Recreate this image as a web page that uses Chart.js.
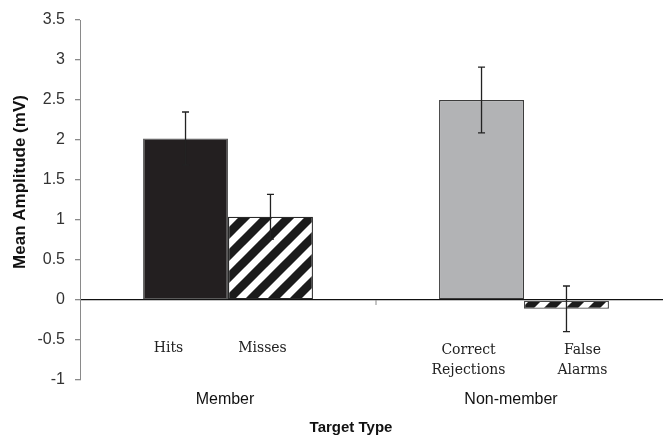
<!DOCTYPE html>
<html>
<head>
<meta charset="utf-8">
<script src="https://cdn.jsdelivr.net/npm/chart.js@4/dist/chart.umd.min.js"></script>
<style>
  html, body { margin: 0; padding: 0; background: #fff; overflow: hidden; }
  #wrap { width: 663px; height: 437px; overflow: hidden; }
</style>
</head>
<body>
<div id="wrap"><canvas id="c" width="672" height="437"></canvas></div>
<script>
// Target types on the x axis
const targetTypes = ['Member', 'Non-member'];

// First response of each target type (Hits / Correct Rejections)
const firstResponses = [['Hits'], ['Correct', 'Rejections']];
const firstMeans = [2.02, 2.50];
const firstErrors = [0.33, 0.41];

// Second response of each target type (Misses / False Alarms)
const secondResponses = [['Misses'], ['False', 'Alarms']];
const secondMeans = [1.04, -0.11];
const secondErrors = [0.28, 0.285];

// Amplitude axis
const yMin = -1, yMax = 3.5, yStep = 0.5;

// Horizontal nudges for captions, relative to their bar / category centres
const firstNudge = [-17, -13];
const secondNudge = [-8, 16];
const typeNudge = [-3, -13];

const SANS = '"Liberation Sans", Arial, sans-serif';

// Black/white diagonal hatch used for Misses and False Alarms
function makeHatch() {
  const s = 22;
  const p = document.createElement('canvas');
  p.width = s; p.height = s;
  const g = p.getContext('2d');
  g.fillStyle = '#ffffff';
  g.fillRect(0, 0, s, s);
  g.strokeStyle = '#1b1b1b';
  g.lineWidth = 8.6;
  g.lineCap = 'square';
  [[-s, s, s, -s], [0, s, s, 0], [0, 2 * s, 2 * s, 0]].forEach(([x1, y1, x2, y2]) => {
    g.beginPath(); g.moveTo(x1, y1); g.lineTo(x2, y2); g.stroke();
  });
  return g.createPattern(p, 'repeat');
}
const ctx = document.getElementById('c').getContext('2d');
const hatch = makeHatch();

// Error bars drawn on every bar
const errorBars = {
  id: 'errorBars',
  afterDatasetsDraw(chart) {
    const y = chart.scales.y;
    const c = chart.ctx;
    c.save();
    c.strokeStyle = '#222';
    c.lineWidth = 1.3;
    chart.data.datasets.forEach((ds, i) => {
      const meta = chart.getDatasetMeta(i);
      meta.data.forEach((bar, j) => {
        const v = ds.data[j], e = ds.errors[j];
        const yt = y.getPixelForValue(v + e);
        const yb = y.getPixelForValue(v - e);
        c.beginPath();
        c.moveTo(bar.x, yt); c.lineTo(bar.x, yb);
        c.moveTo(bar.x - 3.5, yt); c.lineTo(bar.x + 3.5, yt);
        c.moveTo(bar.x - 3.5, yb); c.lineTo(bar.x + 3.5, yb);
        c.stroke();
      });
    });
    c.restore();
  }
};

// Response captions, target-type labels, divider tick and axis titles
const annotations = {
  id: 'annotations',
  afterDraw(chart) {
    const c = chart.ctx;
    const x = chart.scales.x, y = chart.scales.y;
    const area = chart.chartArea;
    c.save();
    // divider tick between target types
    const mid = (x.getPixelForValue(0) + x.getPixelForValue(1)) / 2;
    const y0 = y.getPixelForValue(0);
    c.strokeStyle = '#8a8a8a';
    c.lineWidth = 1;
    c.beginPath(); c.moveTo(mid, y0); c.lineTo(mid, y0 + 5); c.stroke();

    // response captions
    c.fillStyle = '#222';
    c.font = '14px "DejaVu Serif", "Liberation Serif", serif';
    c.textAlign = 'center';
    c.textBaseline = 'middle';
    const sets = [[firstResponses, firstNudge], [secondResponses, secondNudge]];
    sets.forEach(([labels, nudge], i) => {
      const meta = chart.getDatasetMeta(i);
      meta.data.forEach((bar, j) => {
        const lines = labels[j];
        const top = lines.length > 1 ? 350 : 348;
        lines.forEach((ln, k) => c.fillText(ln, bar.x + nudge[j], top + k * 20));
      });
    });

    // target type labels
    c.fillStyle = '#111';
    c.font = '16px ' + SANS;
    targetTypes.forEach((t, j) => {
      c.fillText(t, x.getPixelForValue(j) + typeNudge[j], area.bottom + 20);
    });

    // x axis title
    c.font = 'bold 15px ' + SANS;
    c.fillText('Target Type', (area.left + area.right) / 2 - 25, area.bottom + 48);

    // y axis title
    c.font = 'bold 17px ' + SANS;
    c.translate(20, y.getPixelForValue(1.5) + 2);
    c.rotate(-Math.PI / 2);
    c.fillText('Mean Amplitude (mV)', 0, 0);
    c.restore();
  }
};

new Chart(ctx, {
  type: 'bar',
  data: {
    labels: targetTypes,
    datasets: [
      {
        label: 'First response',
        data: firstMeans,
        errors: firstErrors,
        backgroundColor: ['#231f20', '#b2b3b5'],
        borderColor: ['#5a5a5a', '#3c3c3c'],
        borderWidth: 1.3,
        borderSkipped: false,
        categoryPercentage: 0.574,
        barPercentage: 1.0
      },
      {
        label: 'Second response',
        data: secondMeans,
        errors: secondErrors,
        backgroundColor: [hatch, hatch],
        borderColor: ['#2a2a2a', '#4a4a4a'],
        borderWidth: 1.3,
        borderSkipped: false,
        categoryPercentage: 0.574,
        barPercentage: 1.0
      }
    ]
  },
  options: {
    responsive: false,
    animation: false,
    devicePixelRatio: 1,
    layout: { padding: { top: 20, right: 0, left: 0, bottom: 57 } },
    plugins: { legend: { display: false }, tooltip: { enabled: false } },
    scales: {
      x: { display: false },
      y: {
        min: yMin,
        max: yMax,
        grid: {
          drawOnChartArea: true,
          drawTicks: true,
          tickLength: 5,
          lineWidth: 1.3,
          color: (c) => (c.tick && c.tick.value === 0 ? '#111' : 'rgba(0,0,0,0)'),
          tickColor: '#8a8a8a'
        },
        border: { display: true, color: '#8a8a8a', width: 1 },
        ticks: {
          stepSize: yStep,
          color: '#333',
          padding: 10,
          font: { family: SANS, size: 16 },
          callback: (v) => String(Math.round(v * 10) / 10)
        },
        afterFit(scale) { scale.width = 80; }
      }
    }
  },
  plugins: [errorBars, annotations]
});
</script>
</body>
</html>
